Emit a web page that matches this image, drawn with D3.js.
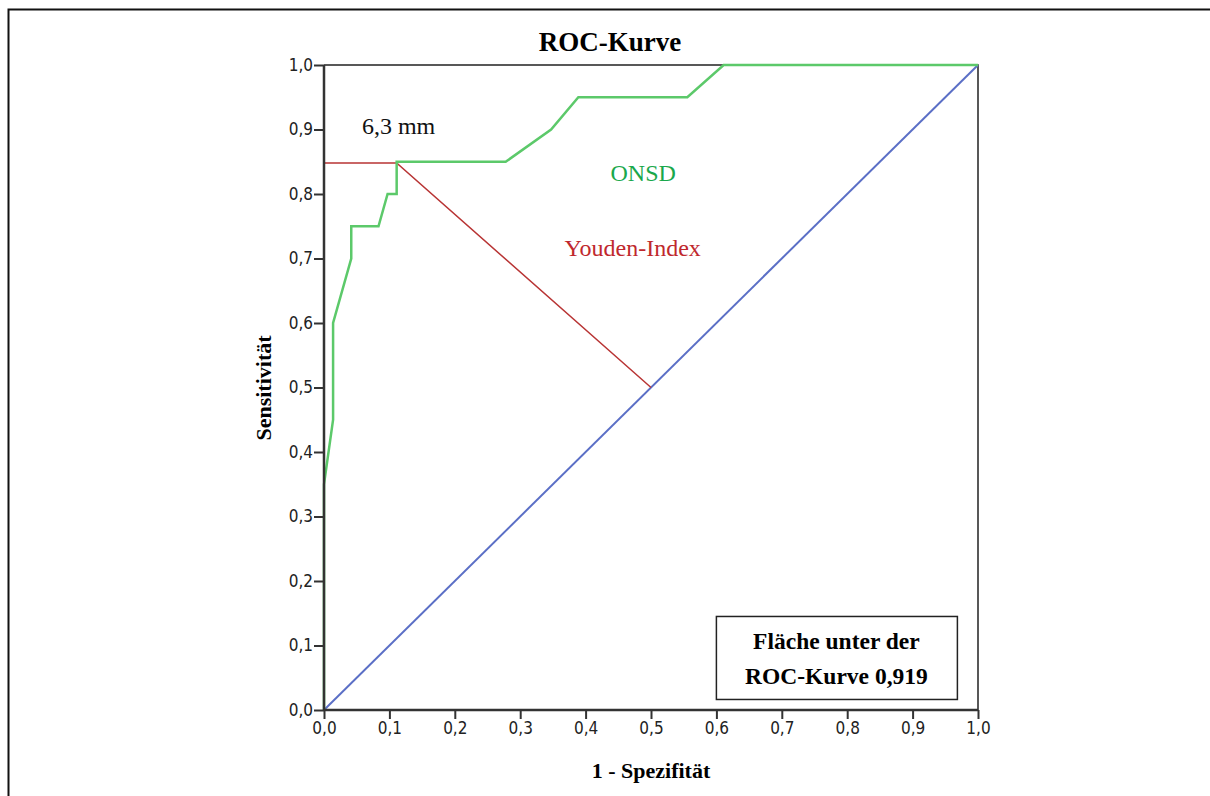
<!DOCTYPE html>
<html>
<head>
<meta charset="utf-8">
<script src="https://cdn.jsdelivr.net/npm/d3@7"></script>
<style>
  body { margin: 0; background: #fff; }
  .serif { font-family: "Liberation Serif", "Times New Roman", serif; }
</style>
</head>
<body>
<svg id="chart" width="1210" height="796"></svg>
<script>
// ROC curve points: 1 - specificity (x) and sensitivity (y)
var rocFpr = [0, 0, 1/72, 1/72, 3/72, 3/72, 6/72, 7/72, 8/72, 8/72, 20/72, 25/72, 28/72, 40/72, 44/72, 1];
var rocTpr = [0, 0.35, 0.45, 0.60, 0.70, 0.75, 0.75, 0.80, 0.80, 0.85, 0.85, 0.90, 0.95, 0.95, 1.00, 1.00];
// Youden index line: from y axis to cut point, then down to the diagonal
var youdenX = [0, 8/72, 0.5];
var youdenY = [0.848, 0.848, 0.5];
var diagX = [0, 1];
var diagY = [0, 1];
var tickValues = [0, 0.1, 0.2, 0.3, 0.4, 0.5, 0.6, 0.7, 0.8, 0.9, 1.0];

var svg = d3.select("svg");
var margin = { top: 65, left: 324, right: 232, bottom: 86 };
var width = +svg.attr("width") - margin.left - margin.right;
var height = +svg.attr("height") - margin.top - margin.bottom;

// outer frame
svg.append("rect")
    .attr("x", 8.5).attr("y", 9.5)
    .attr("width", 1300).attr("height", 900)
    .attr("fill", "none").attr("stroke", "#111").attr("stroke-width", 2);

var x = d3.scaleLinear().domain([0, 1]).range([0, width]);
var y = d3.scaleLinear().domain([0, 1]).range([height, 0]);

var g = svg.append("g")
    .attr("transform", "translate(" + margin.left + "," + margin.top + ")");

var fmt = function (d) { return d3.format(".1f")(d).replace(".", ","); };

// top & right frame
g.append("path")
    .attr("d", "M0,0H" + width + "V" + height)
    .attr("fill", "none").attr("stroke", "#222").attr("stroke-width", 1.5);

var line = d3.line()
    .x(function (d) { return x(d[0]); })
    .y(function (d) { return y(d[1]); });

g.append("path")
    .datum(diagX.map(function (d, i) { return [d, diagY[i]]; }))
    .attr("d", line)
    .attr("fill", "none").attr("stroke", "#5b6fc6").attr("stroke-width", 2);

g.append("path")
    .datum(youdenX.map(function (d, i) { return [d, youdenY[i]]; }))
    .attr("d", line)
    .attr("fill", "none").attr("stroke", "#b83434").attr("stroke-width", 1.5);

g.append("path")
    .datum(rocFpr.map(function (d, i) { return [d, rocTpr[i]]; }))
    .attr("d", line)
    .attr("fill", "none").attr("stroke", "#5cc96a").attr("stroke-width", 2.5);

var xAxis = g.append("g")
    .attr("transform", "translate(0," + height + ")")
    .call(d3.axisBottom(x).tickValues(tickValues).tickFormat(fmt).tickSize(9).tickPadding(3));

var yAxis = g.append("g")
    .call(d3.axisLeft(y).tickValues(tickValues).tickFormat(fmt).tickSize(10).tickPadding(1));

[xAxis, yAxis].forEach(function (a) {
    a.attr("font-family", "'DejaVu Sans Condensed', 'DejaVu Sans', sans-serif")
        .attr("font-size", 17);
    a.selectAll(".tick text").attr("fill", "#222").style("font-stretch", "condensed");
    a.select(".domain").attr("stroke", "#333").attr("stroke-width", 2.5);
    a.selectAll(".tick line").attr("stroke", "#333").attr("stroke-width", 2);
});
xAxis.select(".domain").attr("d", "M0,0H" + width);
yAxis.select(".domain").attr("d", "M0,0V" + height);

// title & axis labels
svg.append("text").attr("class", "serif")
    .attr("x", 610).attr("y", 51)
    .attr("text-anchor", "middle")
    .style("font-size", "27px").style("font-weight", "bold")
    .text("ROC-Kurve");

svg.append("text").attr("class", "serif")
    .attr("x", 651).attr("y", 778)
    .attr("text-anchor", "middle")
    .style("font-size", "22px").style("font-weight", "bold")
    .text("1 - Spezifität");

svg.append("text").attr("class", "serif")
    .attr("transform", "translate(271,388) rotate(-90)")
    .attr("text-anchor", "middle")
    .style("font-size", "22px").style("font-weight", "bold")
    .text("Sensitivität");

// annotations
g.append("text").attr("class", "serif")
    .attr("x", x(0.058)).attr("y", y(0.9) + 4)
    .style("font-size", "24px").attr("fill", "#111")
    .text("6,3 mm");

g.append("text").attr("class", "serif")
    .attr("x", x(0.488)).attr("y", y(0.83) + 6)
    .attr("text-anchor", "middle")
    .style("font-size", "24px").attr("fill", "#1aa84c")
    .text("ONSD");

g.append("text").attr("class", "serif")
    .attr("x", x(0.472)).attr("y", y(0.71) + 4)
    .attr("text-anchor", "middle")
    .style("font-size", "24px").attr("fill", "#c0282d")
    .text("Youden-Index");

// AUC box
var box = g.append("g").attr("transform", "translate(" + x(0.600) + "," + y(0.145) + ")");
box.append("rect")
    .attr("x", 0).attr("y", 0).attr("width", 241).attr("height", 83)
    .attr("fill", "#fff").attr("stroke", "#222").attr("stroke-width", 1.5);
box.append("text").attr("class", "serif")
    .attr("x", 120).attr("y", 33)
    .attr("text-anchor", "middle")
    .style("font-size", "23.5px").style("font-weight", "bold")
    .text("Fläche unter der");
box.append("text").attr("class", "serif")
    .attr("x", 120).attr("y", 68)
    .attr("text-anchor", "middle")
    .style("font-size", "23.5px").style("font-weight", "bold")
    .text("ROC-Kurve 0,919");
</script>
</body>
</html>
